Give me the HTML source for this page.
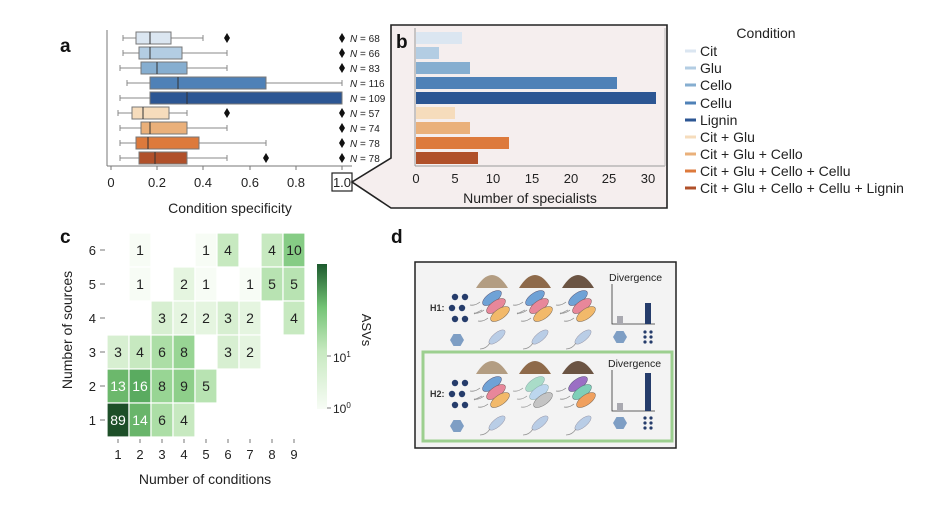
<!DOCTYPE html>
<html><head><meta charset="utf-8"><style>
html,body{margin:0;padding:0;background:#fff;}
svg{display:block;font-family:"Liberation Sans",sans-serif;}
</style></head><body>
<svg width="934" height="520" viewBox="0 0 934 520" xmlns="http://www.w3.org/2000/svg">
<defs>
<g id="bact">
  <path d="M-18,6 q4,-2 8,-4" stroke="#999" fill="none" stroke-width="0.8"/>
  <ellipse cx="0" cy="-10" rx="11" ry="5" transform="rotate(-35 0 -10)" fill="#6fa2d6" stroke="#557" stroke-width="0.5"/>
  <ellipse cx="4" cy="-2" rx="11" ry="5" transform="rotate(-35 4 -2)" fill="#e8879a" stroke="#755" stroke-width="0.5"/>
  <ellipse cx="8" cy="6" rx="11" ry="5" transform="rotate(-35 8 6)" fill="#f2b96a" stroke="#765" stroke-width="0.5"/>
  <path d="M-12,-6 q-5,4 -10,3 M-8,2 q-5,4 -10,3 M-4,10 q-5,4 -10,3" stroke="#888" fill="none" stroke-width="0.8"/>
</g>
<g id="bact2">
  <ellipse cx="0" cy="-10" rx="11" ry="5" transform="rotate(-35 0 -10)" fill="#a9dcc8" stroke="#8aa" stroke-width="0.5"/>
  <ellipse cx="4" cy="-2" rx="11" ry="5" transform="rotate(-35 4 -2)" fill="#bcd6ee" stroke="#8aa" stroke-width="0.5"/>
  <ellipse cx="8" cy="6" rx="11" ry="5" transform="rotate(-35 8 6)" fill="#c4c4c4" stroke="#777" stroke-width="0.5"/>
  <path d="M-12,-6 q-5,4 -10,3 M-8,2 q-5,4 -10,3 M-4,10 q-5,4 -10,3" stroke="#999" fill="none" stroke-width="0.8"/>
</g>
<g id="bact3">
  <ellipse cx="0" cy="-10" rx="11" ry="5" transform="rotate(-35 0 -10)" fill="#9b6fc4" stroke="#557" stroke-width="0.5"/>
  <ellipse cx="4" cy="-2" rx="11" ry="5" transform="rotate(-35 4 -2)" fill="#7fcfb8" stroke="#577" stroke-width="0.5"/>
  <ellipse cx="8" cy="6" rx="11" ry="5" transform="rotate(-35 8 6)" fill="#f0a05e" stroke="#765" stroke-width="0.5"/>
  <path d="M-12,-6 q-5,4 -10,3 M-8,2 q-5,4 -10,3 M-4,10 q-5,4 -10,3" stroke="#888" fill="none" stroke-width="0.8"/>
</g>
<g id="pale">
  <ellipse cx="2" cy="-3" rx="10" ry="4" transform="rotate(-40 2 -3)" fill="#b9cde6" stroke="#99a" stroke-width="0.5"/>
  <path d="M-5,3 q-4,6 -10,6" stroke="#999" fill="none" stroke-width="0.8"/>
</g>
<g id="dots" fill="#253c6b">
  <circle cx="-5" cy="-11" r="3.2"/><circle cx="5" cy="-11" r="3.2"/>
  <circle cx="-8" cy="0" r="3.2"/><circle cx="2" cy="0" r="3.2"/>
  <circle cx="-5" cy="11" r="3.2"/><circle cx="5" cy="11" r="3.2"/>
</g>
<g id="hex"><polygon points="-7,0 -3.5,-6 3.5,-6 7,0 3.5,6 -3.5,6" fill="#7e9ec4"/></g>
<g id="sdots" fill="#253c6b"><circle cx="-3" cy="-5" r="1.6"/><circle cx="3" cy="-5" r="1.6"/><circle cx="-3" cy="0" r="1.6"/><circle cx="3" cy="0" r="1.6"/><circle cx="-3" cy="5" r="1.6"/><circle cx="3" cy="5" r="1.6"/></g>
</defs>

<!-- Panel a -->
<text x="60" y="52" font-size="19" font-weight="bold" fill="#111">a</text>
<line x1="107" y1="30" x2="107" y2="166" stroke="#777" stroke-width="1"/>
<line x1="107" y1="166" x2="352" y2="166" stroke="#777" stroke-width="1"/>
<g stroke="#777" stroke-width="1">
<line x1="111" y1="166" x2="111" y2="170"/><line x1="157" y1="166" x2="157" y2="170"/><line x1="203" y1="166" x2="203" y2="170"/><line x1="250" y1="166" x2="250" y2="170"/><line x1="296" y1="166" x2="296" y2="170"/><line x1="342" y1="166" x2="342" y2="170"/>
</g>
<g font-size="13" fill="#222" text-anchor="middle">
<text x="111" y="187">0</text><text x="157" y="187">0.2</text><text x="203" y="187">0.4</text><text x="250" y="187">0.6</text><text x="296" y="187">0.8</text><text x="342" y="187">1.0</text>
</g>
<rect x="332" y="173" width="20" height="18" fill="none" stroke="#222" stroke-width="1.2"/>
<text x="230" y="213" font-size="14" fill="#222" text-anchor="middle">Condition specificity</text>

<g stroke="#888" stroke-width="1" id="boxes">
<!-- rows: y centers 38,53,68,83,98,113,128,143,158 -->
<!-- scale: x = 111 + v*231 -->
<line x1="123" y1="38" x2="203" y2="38"/><line x1="123" y1="35" x2="123" y2="41"/><line x1="203" y1="35" x2="203" y2="41"/>
<rect x="136" y="32" width="35" height="12" fill="#dbe6f1" stroke="#777"/><line x1="150" y1="32" x2="150" y2="44" stroke="#333"/>
<line x1="123" y1="53" x2="227" y2="53"/><line x1="123" y1="50" x2="123" y2="56"/><line x1="227" y1="50" x2="227" y2="56"/>
<rect x="139" y="47" width="43" height="12" fill="#b3cde3" stroke="#777"/><line x1="150" y1="47" x2="150" y2="59" stroke="#333"/>
<line x1="120" y1="68" x2="227" y2="68"/><line x1="120" y1="65" x2="120" y2="71"/><line x1="227" y1="65" x2="227" y2="71"/>
<rect x="141" y="62" width="46" height="12" fill="#86aed0" stroke="#777"/><line x1="157" y1="62" x2="157" y2="74" stroke="#333"/>
<line x1="127" y1="83" x2="342" y2="83"/><line x1="127" y1="80" x2="127" y2="86"/><line x1="342" y1="80" x2="342" y2="86"/>
<rect x="150" y="77" width="116" height="12" fill="#4f81b7" stroke="#777"/><line x1="178" y1="77" x2="178" y2="89" stroke="#333"/>
<line x1="120" y1="98" x2="150" y2="98"/><line x1="120" y1="95" x2="120" y2="101"/>
<rect x="150" y="92" width="192" height="12" fill="#2c5693" stroke="#777"/><line x1="187" y1="92" x2="187" y2="104" stroke="#333"/>
<line x1="118" y1="113" x2="187" y2="113"/><line x1="118" y1="110" x2="118" y2="116"/><line x1="187" y1="110" x2="187" y2="116"/>
<rect x="132" y="107" width="37" height="12" fill="#f6dcbc" stroke="#777"/><line x1="143" y1="107" x2="143" y2="119" stroke="#333"/>
<line x1="120" y1="128" x2="227" y2="128"/><line x1="120" y1="125" x2="120" y2="131"/><line x1="227" y1="125" x2="227" y2="131"/>
<rect x="141" y="122" width="46" height="12" fill="#eab07a" stroke="#777"/><line x1="150" y1="122" x2="150" y2="134" stroke="#333"/>
<line x1="120" y1="143" x2="266" y2="143"/><line x1="120" y1="140" x2="120" y2="146"/><line x1="266" y1="140" x2="266" y2="146"/>
<rect x="136" y="137" width="63" height="12" fill="#dd7a3c" stroke="#777"/><line x1="148" y1="137" x2="148" y2="149" stroke="#333"/>
<line x1="120" y1="158" x2="227" y2="158"/><line x1="120" y1="155" x2="120" y2="161"/><line x1="227" y1="155" x2="227" y2="161"/>
<rect x="139" y="152" width="48" height="12" fill="#b0502a" stroke="#777"/><line x1="155" y1="152" x2="155" y2="164" stroke="#333"/>
</g>
<g fill="#111">
<path d="M227,33 l3,5 l-3,5 l-3,-5z"/><path d="M227,108 l3,5 l-3,5 l-3,-5z"/><path d="M266,153 l3,5 l-3,5 l-3,-5z"/>
<path d="M342,33 l3,5 l-3,5 l-3,-5z"/><path d="M342,48 l3,5 l-3,5 l-3,-5z"/><path d="M342,63 l3,5 l-3,5 l-3,-5z"/>
<path d="M342,108 l3,5 l-3,5 l-3,-5z"/><path d="M342,123 l3,5 l-3,5 l-3,-5z"/><path d="M342,138 l3,5 l-3,5 l-3,-5z"/><path d="M342,153 l3,5 l-3,5 l-3,-5z"/>
</g>
<g font-size="10" fill="#222">
<text x="350" y="42"><tspan font-style="italic">N</tspan> = 68</text>
<text x="350" y="57"><tspan font-style="italic">N</tspan> = 66</text>
<text x="350" y="72"><tspan font-style="italic">N</tspan> = 83</text>
<text x="350" y="87"><tspan font-style="italic">N</tspan> = 116</text>
<text x="350" y="102"><tspan font-style="italic">N</tspan> = 109</text>
<text x="350" y="117"><tspan font-style="italic">N</tspan> = 57</text>
<text x="350" y="132"><tspan font-style="italic">N</tspan> = 74</text>
<text x="350" y="147"><tspan font-style="italic">N</tspan> = 78</text>
<text x="350" y="162"><tspan font-style="italic">N</tspan> = 78</text>
</g>

<!-- Panel b -->
<polygon points="391,25 667,25 667,208 391,208 352,182 391,158" fill="#f5eeee" stroke="#222" stroke-width="1.6"/>
<text x="396" y="48" font-size="19" font-weight="bold" fill="#111">b</text>
<line x1="415" y1="28" x2="415" y2="166" stroke="#999"/>
<line x1="415" y1="166" x2="665" y2="166" stroke="#999"/>
<line x1="665" y1="28" x2="665" y2="166" stroke="#bbb"/>
<g>
<rect x="416" y="32" width="46" height="12" fill="#dbe6f1"/>
<rect x="416" y="47" width="23" height="12" fill="#b3cde3"/>
<rect x="416" y="62" width="54" height="12" fill="#86aed0"/>
<rect x="416" y="77" width="201" height="12" fill="#4f81b7"/>
<rect x="416" y="92" width="240" height="12" fill="#2c5693"/>
<rect x="416" y="107" width="39" height="12" fill="#f6dcbc"/>
<rect x="416" y="122" width="54" height="12" fill="#eab07a"/>
<rect x="416" y="137" width="93" height="12" fill="#dd7a3c"/>
<rect x="416" y="152" width="62" height="12" fill="#b0502a"/>
</g>
<g font-size="13" fill="#222" text-anchor="middle">
<text x="416" y="183">0</text><text x="455" y="183">5</text><text x="493" y="183">10</text><text x="532" y="183">15</text><text x="571" y="183">20</text><text x="609" y="183">25</text><text x="648" y="183">30</text>
</g>
<text x="530" y="203" font-size="14" fill="#222" text-anchor="middle">Number of specialists</text>

<!-- Legend -->
<text x="766" y="38" font-size="14" fill="#222" text-anchor="middle">Condition</text>
<g stroke-width="3">
<line x1="685" y1="51" x2="696" y2="51" stroke="#dbe6f1"/>
<line x1="685" y1="68" x2="696" y2="68" stroke="#b3cde3"/>
<line x1="685" y1="85" x2="696" y2="85" stroke="#86aed0"/>
<line x1="685" y1="103" x2="696" y2="103" stroke="#4f81b7"/>
<line x1="685" y1="120" x2="696" y2="120" stroke="#2c5693"/>
<line x1="685" y1="137" x2="696" y2="137" stroke="#f6dcbc"/>
<line x1="685" y1="154" x2="696" y2="154" stroke="#eab07a"/>
<line x1="685" y1="171" x2="696" y2="171" stroke="#dd7a3c"/>
<line x1="685" y1="188" x2="696" y2="188" stroke="#b0502a"/>
</g>
<g font-size="14" fill="#222">
<text x="700" y="56">Cit</text><text x="700" y="73">Glu</text><text x="700" y="90">Cello</text><text x="700" y="108">Cellu</text><text x="700" y="125">Lignin</text>
<text x="700" y="142">Cit + Glu</text><text x="700" y="159">Cit + Glu + Cello</text><text x="700" y="176">Cit + Glu + Cello + Cellu</text><text x="700" y="193">Cit + Glu + Cello + Cellu + Lignin</text>
</g>

<!-- Panel c -->
<text x="60" y="243" font-size="19" font-weight="bold" fill="#111">c</text>
<g stroke="#fff" stroke-width="1.2">
<!-- col x left = 107 + (c-1)*21.9 ; row top = 233 + (6-r)*34 -->
<rect x="129" y="233" width="22" height="34" fill="#f7fcf5"/>
<rect x="195" y="233" width="22" height="34" fill="#f7fcf5"/>
<rect x="217" y="233" width="22" height="34" fill="#c7e9c0"/>
<rect x="261" y="233" width="22" height="34" fill="#c7e9c0"/>
<rect x="283" y="233" width="22" height="34" fill="#86cc85"/>
<rect x="129" y="267" width="22" height="34" fill="#f7fcf5"/>
<rect x="173" y="267" width="22" height="34" fill="#e5f5e0"/>
<rect x="195" y="267" width="22" height="34" fill="#f7fcf5"/>
<rect x="239" y="267" width="22" height="34" fill="#f7fcf5"/>
<rect x="261" y="267" width="22" height="34" fill="#b8e3b2"/>
<rect x="283" y="267" width="22" height="34" fill="#b8e3b2"/>
<rect x="151" y="301" width="22" height="34" fill="#d7efd1"/>
<rect x="173" y="301" width="22" height="34" fill="#e5f5e0"/>
<rect x="195" y="301" width="22" height="34" fill="#e5f5e0"/>
<rect x="217" y="301" width="22" height="34" fill="#d7efd1"/>
<rect x="239" y="301" width="22" height="34" fill="#e5f5e0"/>
<rect x="283" y="301" width="22" height="34" fill="#c7e9c0"/>
<rect x="107" y="335" width="22" height="34" fill="#d7efd1"/>
<rect x="129" y="335" width="22" height="34" fill="#c7e9c0"/>
<rect x="151" y="335" width="22" height="34" fill="#acdea6"/>
<rect x="173" y="335" width="22" height="34" fill="#98d594"/>
<rect x="217" y="335" width="22" height="34" fill="#d7efd1"/>
<rect x="239" y="335" width="22" height="34" fill="#e5f5e0"/>
<rect x="107" y="369" width="22" height="34" fill="#6cb86c"/>
<rect x="129" y="369" width="22" height="34" fill="#5aab60"/>
<rect x="151" y="369" width="22" height="34" fill="#98d594"/>
<rect x="173" y="369" width="22" height="34" fill="#8ecf8a"/>
<rect x="195" y="369" width="22" height="34" fill="#b8e3b2"/>
<rect x="107" y="403" width="22" height="34" fill="#1d4f28"/>
<rect x="129" y="403" width="22" height="34" fill="#69b56a"/>
<rect x="151" y="403" width="22" height="34" fill="#acdea6"/>
<rect x="173" y="403" width="22" height="34" fill="#c7e9c0"/>
</g>
<g font-size="14" fill="#222" text-anchor="middle">
<text x="140" y="255">1</text><text x="206" y="255">1</text><text x="228" y="255">4</text><text x="272" y="255">4</text><text x="294" y="255">10</text>
<text x="140" y="289">1</text><text x="184" y="289">2</text><text x="206" y="289">1</text><text x="250" y="289">1</text><text x="272" y="289">5</text><text x="294" y="289">5</text>
<text x="162" y="323">3</text><text x="184" y="323">2</text><text x="206" y="323">2</text><text x="228" y="323">3</text><text x="250" y="323">2</text><text x="294" y="323">4</text>
<text x="118" y="357">3</text><text x="140" y="357">4</text><text x="162" y="357">6</text><text x="184" y="357">8</text><text x="228" y="357">3</text><text x="250" y="357">2</text>
<text x="118" y="391" fill="#fff">13</text><text x="140" y="391" fill="#fff">16</text><text x="162" y="391">8</text><text x="184" y="391">9</text><text x="206" y="391">5</text>
<text x="118" y="425" fill="#fff">89</text><text x="140" y="425" fill="#fff">14</text><text x="162" y="425">6</text><text x="184" y="425">4</text>
</g>
<g font-size="13" fill="#222" text-anchor="end">
<text x="96" y="255">6</text><text x="96" y="289">5</text><text x="96" y="323">4</text><text x="96" y="357">3</text><text x="96" y="391">2</text><text x="96" y="425">1</text>
</g>
<g stroke="#777"><line x1="100" y1="250" x2="105" y2="250"/><line x1="100" y1="284" x2="105" y2="284"/><line x1="100" y1="318" x2="105" y2="318"/><line x1="100" y1="352" x2="105" y2="352"/><line x1="100" y1="386" x2="105" y2="386"/><line x1="100" y1="420" x2="105" y2="420"/>
<line x1="118" y1="439" x2="118" y2="443"/><line x1="140" y1="439" x2="140" y2="443"/><line x1="162" y1="439" x2="162" y2="443"/><line x1="184" y1="439" x2="184" y2="443"/><line x1="206" y1="439" x2="206" y2="443"/><line x1="228" y1="439" x2="228" y2="443"/><line x1="250" y1="439" x2="250" y2="443"/><line x1="272" y1="439" x2="272" y2="443"/><line x1="294" y1="439" x2="294" y2="443"/></g>
<g font-size="13" fill="#222" text-anchor="middle">
<text x="118" y="459">1</text><text x="140" y="459">2</text><text x="162" y="459">3</text><text x="184" y="459">4</text><text x="206" y="459">5</text><text x="228" y="459">6</text><text x="250" y="459">7</text><text x="272" y="459">8</text><text x="294" y="459">9</text>
</g>
<text x="205" y="484" font-size="14" fill="#222" text-anchor="middle">Number of conditions</text>
<text transform="translate(72,330) rotate(-90)" font-size="14" fill="#222" text-anchor="middle">Number of sources</text>
<defs><linearGradient id="cb" x1="0" y1="1" x2="0" y2="0"><stop offset="0" stop-color="#f7fcf5"/><stop offset="0.4" stop-color="#c7e9c0"/><stop offset="0.7" stop-color="#74c476"/><stop offset="1" stop-color="#1d5a2e"/></linearGradient></defs>
<rect x="317" y="264" width="10" height="145" fill="url(#cb)"/>
<g stroke="#777"><line x1="327" y1="408" x2="331" y2="408"/><line x1="327" y1="356" x2="331" y2="356"/></g>
<text x="333" y="362" font-size="12" fill="#222">10<tspan dy="-5" font-size="8">1</tspan></text>
<text x="333" y="413" font-size="12" fill="#222">10<tspan dy="-5" font-size="8">0</tspan></text>
<text transform="translate(362,330) rotate(90)" font-size="13" fill="#222" text-anchor="middle">ASVs</text>

<!-- Panel d -->
<text x="391" y="243" font-size="19" font-weight="bold" fill="#111">d</text>
<rect x="415" y="262" width="261" height="186" fill="#f3f3f3" stroke="#222" stroke-width="1.5"/>
<rect x="423" y="352" width="249" height="89" fill="#f3f3f3" stroke="#9ccf8f" stroke-width="3"/>
<g>
<path d="M476,288 Q492,262 508,288Z" fill="#b39d82"/>
<path d="M519,288 Q535,262 551,288Z" fill="#8e6a4a"/>
<path d="M562,288 Q578,262 594,288Z" fill="#6b5443"/>
<path d="M476,374 Q492,348 508,374Z" fill="#b39d82"/>
<path d="M519,374 Q535,348 551,374Z" fill="#8e6a4a"/>
<path d="M562,374 Q578,348 594,374Z" fill="#6b5443"/>
<use href="#bact" x="492" y="308"/><use href="#bact" x="535" y="308"/><use href="#bact" x="578" y="308"/>
<use href="#bact" x="492" y="394"/><use href="#bact2" x="535" y="394"/><use href="#bact3" x="578" y="394"/>
<use href="#pale" x="495" y="340"/><use href="#pale" x="538" y="340"/><use href="#pale" x="581" y="340"/>
<use href="#pale" x="495" y="426"/><use href="#pale" x="538" y="426"/><use href="#pale" x="581" y="426"/>
<use href="#dots" x="460" y="308"/><use href="#dots" x="460" y="394"/>
<use href="#hex" x="457" y="340"/><use href="#hex" x="457" y="426"/>
<use href="#hex" x="620" y="337"/><use href="#hex" x="620" y="423"/>
<use href="#sdots" x="648" y="337"/><use href="#sdots" x="648" y="423"/>
</g>
<g font-size="9" font-weight="bold" fill="#333"><text x="430" y="311">H1:</text><text x="430" y="397">H2:</text></g>
<g font-size="10.5" fill="#222"><text x="609" y="281">Divergence</text><text x="608" y="367">Divergence</text></g>
<g stroke="#333" stroke-width="0.8" fill="none">
<path d="M612,284 V324 H655"/><path d="M612,370 V411 H655"/>
</g>
<rect x="617" y="316" width="6" height="8" fill="#a9a9b0"/>
<rect x="645" y="303" width="6" height="21" fill="#253c6b"/>
<rect x="617" y="403" width="6" height="8" fill="#a9a9b0"/>
<rect x="645" y="373" width="6" height="38" fill="#253c6b"/>
</svg>
</body></html>
